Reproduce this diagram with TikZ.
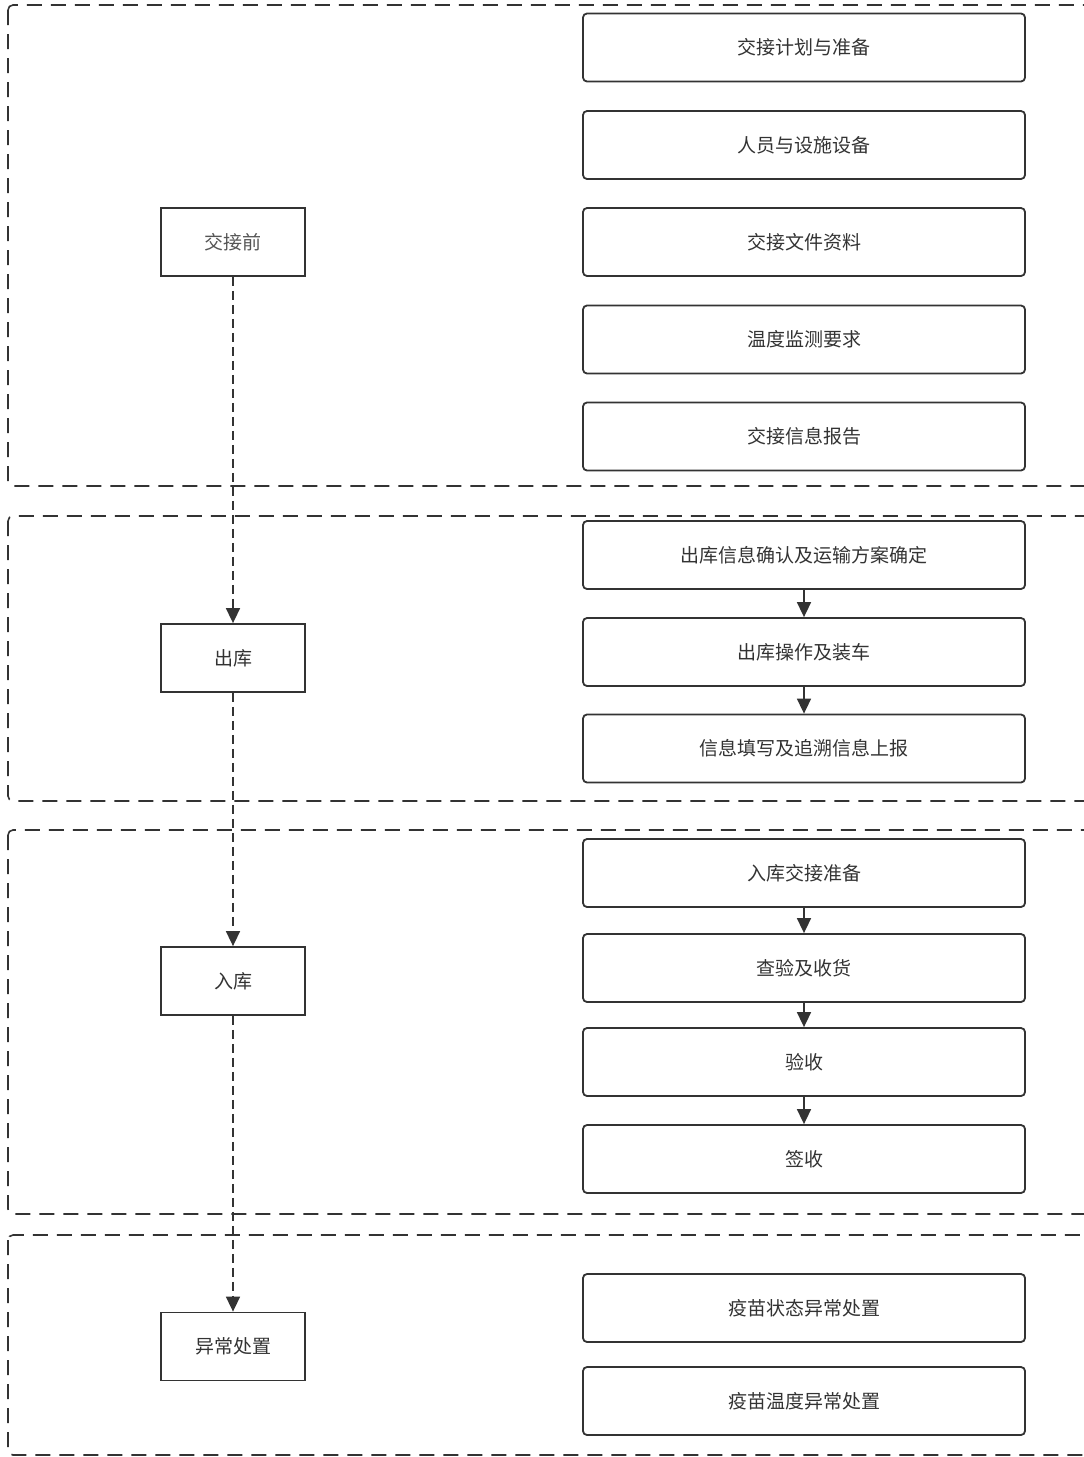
\documentclass[tikz,border=0pt]{standalone}
\usepackage{fontspec}
\setmainfont{Noto Sans CJK SC}
\usetikzlibrary{arrows.meta}
\definecolor{ink}{HTML}{333333}
\definecolor{lightink}{HTML}{555555}
\tikzset{
  frame/.style={draw=ink, line width=1.6pt, dash pattern=on 15pt off 9pt, rounded corners=5pt},
  leftbox/.style={draw=ink, line width=1.8pt, minimum width=144pt, minimum height=68pt, inner sep=0pt, font=\fontsize{19}{22}\selectfont, text=ink},
  rightbox/.style={draw=ink, line width=1.8pt, rounded corners=4pt, minimum width=442pt, minimum height=68pt, inner sep=0pt, font=\fontsize{19}{22}\selectfont, text=ink},
  dashconn/.style={draw=ink, line width=1.6pt, dash pattern=on 9pt off 5pt, -{Triangle[length=15pt,width=14pt]}},
  solidconn/.style={draw=ink, line width=1.6pt, -{Triangle[length=15pt,width=14pt]}}
}
\begin{document}
\begin{tikzpicture}[x=1pt,y=-1pt]
\clip (0,0) rectangle (1084,1457);
\fill[white] (0,0) rectangle (1084,1457);
% frames
\draw[frame] (8,5) rectangle (1110,486);
\draw[frame] (8,516) rectangle (1110,801);
\draw[frame] (8,830) rectangle (1110,1214);
\draw[frame] (8,1235) rectangle (1110,1455);
% left boxes
\node[leftbox, text=lightink] (pre) at (233,242) {交接前};
\node[leftbox] (out) at (233,658) {出库};
\node[leftbox] (in) at (233,981) {入库};
\node[leftbox] (exc) at (233,1346.5) {异常处置};
% right boxes
\node[rightbox] (r1) at (804,47.5) {交接计划与准备};
\node[rightbox] (r2) at (804,145) {人员与设施设备};
\node[rightbox] (r3) at (804,242) {交接文件资料};
\node[rightbox] (r4) at (804,339.5) {温度监测要求};
\node[rightbox] (r5) at (804,436.5) {交接信息报告};
\node[rightbox] (o1) at (804,555) {出库信息确认及运输方案确定};
\node[rightbox] (o2) at (804,652) {出库操作及装车};
\node[rightbox] (o3) at (804,748.5) {信息填写及追溯信息上报};
\node[rightbox] (i1) at (804,873) {入库交接准备};
\node[rightbox] (i2) at (804,968) {查验及收货};
\node[rightbox] (i3) at (804,1062) {验收};
\node[rightbox] (i4) at (804,1159) {签收};
\node[rightbox] (e1) at (804,1308) {疫苗状态异常处置};
\node[rightbox] (e2) at (804,1401) {疫苗温度异常处置};
% connectors
\draw[dashconn] (pre) -- (out);
\draw[dashconn] (out) -- (in);
\draw[dashconn] (in) -- (exc);
\draw[solidconn] (o1) -- (o2);
\draw[solidconn] (o2) -- (o3);
\draw[solidconn] (i1) -- (i2);
\draw[solidconn] (i2) -- (i3);
\draw[solidconn] (i3) -- (i4);
\end{tikzpicture}
\end{document}
